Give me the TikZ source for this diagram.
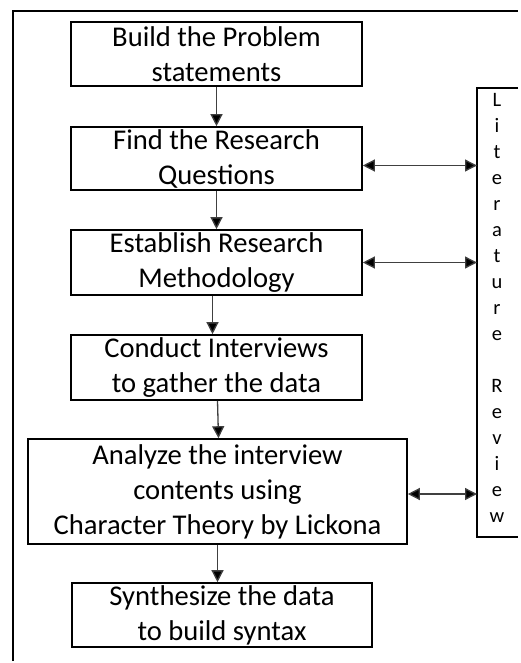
\documentclass[tikz,border=0pt]{standalone}
\usepackage{fontspec}
\setmainfont{Carlito}
\usetikzlibrary{arrows.meta}
\tikzset{
  stepbox/.style={draw, line width=1.6pt, inner sep=0pt, align=center,
    font=\fontsize{28.6}{35}\selectfont},
  arr/.style={draw=black!75, line width=1.3pt, -{Triangle[width=12pt,length=12pt,fill=black]}},
  darr/.style={draw=black!75, line width=1.3pt, {Triangle[width=12pt,length=12pt,fill=black]}-{Triangle[width=12pt,length=12pt,fill=black]}},
}
\begin{document}
\begin{tikzpicture}[x=1pt,y=-1pt]
\useasboundingbox (0,0) rectangle (521,663);
% outer frame (runs towards the picture's right and bottom edges)
\draw[line width=2.5pt] (13,661) |- (518,11);
% process boxes
\node[stepbox, minimum width=291, minimum height=64] (b1) at (216.5,54) {Build the Problem\\statements};
\node[stepbox, minimum width=291, minimum height=63] (b2) at (216.5,158.5) {Find the Research\\Questions};
\node[stepbox, minimum width=291, minimum height=65] (b3) at (216.5,262.5) {Establish Research\\Methodology};
\node[stepbox, minimum width=291, minimum height=65] (b4) at (216.5,367.5) {Conduct Interviews\\to gather the data};
\node[stepbox, minimum width=379, minimum height=105] (b5) at (217.5,491.5) {Analyze the interview\\contents using\\Character Theory by Lickona};
\node[stepbox, minimum width=300, minimum height=64] (b6) at (222,615) {Synthesize the data\\to build syntax};
% literature review box (open towards the right edge)
\coordinate (lit) at (477,300);
\draw[line width=1.6pt] (518,88) -| (lit) |- (518,537);
\node[anchor=north, inner sep=0pt, align=center, font=\fontsize{20.5}{26}\selectfont] (littext) at (497,93.5)
  {L\\i\\t\\e\\r\\a\\t\\u\\r\\e\\\mbox{}\\R\\e\\v\\i\\e\\w};
% vertical flow
\draw[arr] (b1.south) -- (b1.south |- b2.north);
\draw[arr] (b2.south) -- (b2.south |- b3.north);
\draw[arr] ([xshift=-4pt]b3.south) -- ([xshift=-4pt]b3.south |- b4.north);
\draw[arr] ([xshift=1pt]b4.south) -- ([xshift=2pt]b4.south |- b5.north);
\draw[arr] (b5.south) -- (b5.south |- b6.north);
% links to literature review
\draw[darr] ([yshift=-7pt]b2.east) -- ([yshift=-7pt]b2.east -| lit);
\draw[darr] (b3.east) -- (b3.east -| lit);
\draw[darr] ([yshift=-2.5pt]b5.east) -- ([yshift=-2.5pt]b5.east -| lit);
\end{tikzpicture}
\end{document}
